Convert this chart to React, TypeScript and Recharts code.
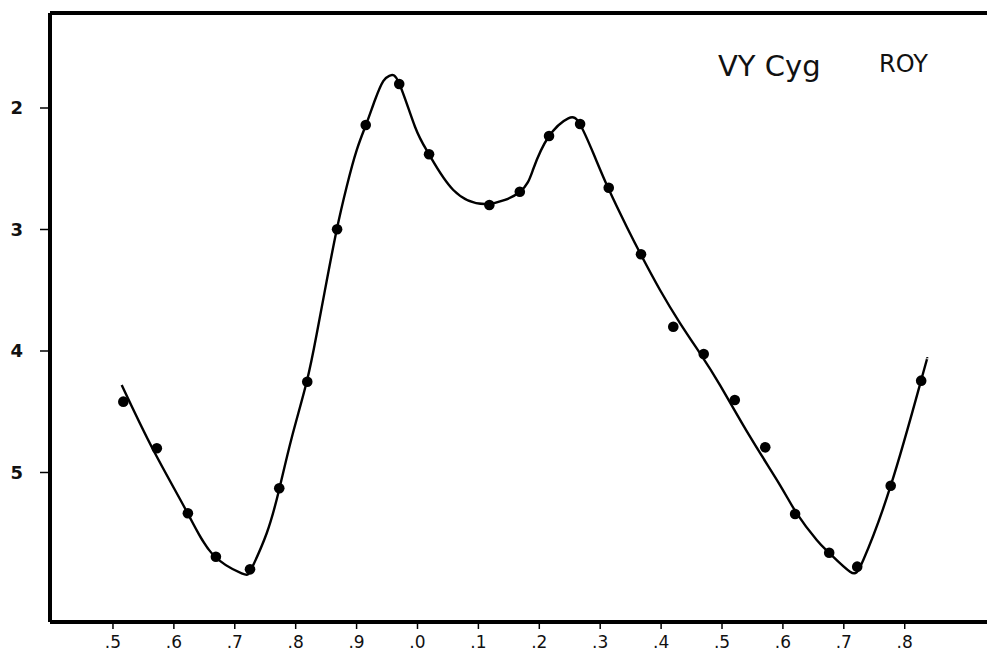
import React from 'react';
import {
  ComposedChart,
  Line,
  Scatter,
  XAxis,
  YAxis,
  ReferenceLine,
  Customized,
} from 'recharts';

// Observed points: phase (continuous, 0.5 .. 1.8) and magnitude
const pointPhase = [
  0.517, 0.572, 0.623, 0.669, 0.725, 0.773, 0.819, 0.868, 0.915, 0.970,
  1.019, 1.118, 1.168, 1.216, 1.267, 1.314, 1.367, 1.420, 1.470, 1.521,
  1.571, 1.620, 1.676, 1.722, 1.777, 1.827,
];
const pointMag = [
  4.417, 4.801, 5.336, 5.693, 5.797, 5.130, 4.253, 2.998, 2.140, 1.802,
  2.381, 2.798, 2.689, 2.230, 2.132, 2.656, 3.204, 3.800, 4.025, 4.403,
  4.793, 5.342, 5.660, 5.775, 5.109, 4.244,
];

// Hand-drawn mean light curve
const curvePhase = [
  0.5143, 0.5662, 0.6227, 0.6647, 0.7113, 0.7278, 0.7524, 0.7731, 0.7934, 0.8181,
  0.8345, 0.8509, 0.8673, 0.8837, 0.9002, 0.9166, 0.9302, 0.9438, 0.9548, 0.9696,
  0.9959, 1.0189, 1.0588, 1.1136, 1.1683, 1.1901, 1.2148, 1.2476, 1.2668,
  1.2887, 1.3133, 1.3435, 1.3665, 1.3982, 1.4310, 1.4639, 1.4967, 1.5460, 1.5952,
  1.6227, 1.6555, 1.6757, 1.7102, 1.7320, 1.7770, 1.8268, 1.8371,
];
const curveMag = [
  4.280, 4.815, 5.336, 5.679, 5.830, 5.789, 5.500, 5.136, 4.716, 4.253,
  3.860, 3.424, 3.004, 2.648, 2.346, 2.123, 1.934, 1.778, 1.733, 1.794,
  2.154, 2.381, 2.675, 2.790, 2.689, 2.502, 2.241, 2.085, 2.134,
  2.373, 2.661, 2.977, 3.204, 3.498, 3.770, 4.019, 4.280, 4.705, 5.103,
  5.336, 5.556, 5.660, 5.816, 5.720, 5.109, 4.244, 4.060,
];

const xTicks = [0.5, 0.6, 0.7, 0.8, 0.9, 1.0, 1.1, 1.2, 1.3, 1.4, 1.5, 1.6, 1.7, 1.8];
const xTickLabels = ['.5', '.6', '.7', '.8', '.9', '.0', '.1', '.2', '.3', '.4', '.5', '.6', '.7', '.8'];
const yTicks = [2, 3, 4, 5];
const yTickLabels = ['2', '3', '4', '5'];

const starName = 'VY Cyg';
const observer = 'ROY';

const X_DOMAIN: [number, number] = [0.3966, 1.9351];
const Y_DOMAIN: [number, number] = [1.2181, 6.2305];

const points = pointPhase.map((p, i) => ({ phase: p, mag: pointMag[i] }));
const curve = curvePhase.map((p, i) => ({ phase: p, mag: curveMag[i] }));

const FONT = '"DejaVu Sans", "Liberation Sans", sans-serif';

const Dot = (props: any) => {
  const { cx, cy } = props;
  if (cx == null || cy == null) return null;
  return <circle cx={cx} cy={cy} r={5.3} fill="#000" />;
};

const Titles = () => (
  <g>
    <text x={718} y={76} fontFamily={FONT} fontSize={29} fill="#111">
      {starName}
    </text>
    <text x={879} y={72} fontFamily={FONT} fontSize={24} fill="#111">
      {observer}
    </text>
  </g>
);

export default function App() {
  return (
    <div style={{ position: 'absolute', left: 0, top: 0, width: 987, height: 654, background: '#fff' }}>
      <ComposedChart
        width={987}
        height={654}
        margin={{ top: 13, right: 0, bottom: 0, left: 0 }}
      >
        <XAxis
          type="number"
          dataKey="phase"
          domain={X_DOMAIN}
          allowDataOverflow
          ticks={xTicks}
          tickFormatter={(_v: number, i: number) => xTickLabels[i]}
          height={32}
          tickSize={7}
          tickMargin={7}
          axisLine={{ stroke: '#000', strokeWidth: 4 }}
          tickLine={{ stroke: '#000', strokeWidth: 1.5 }}
          tick={{ fill: '#111', fontSize: 17, fontFamily: FONT }}
          interval={0}
        />
        <YAxis
          type="number"
          dataKey="mag"
          reversed
          domain={Y_DOMAIN}
          allowDataOverflow
          ticks={yTicks}
          tickFormatter={(_v: number, i: number) => yTickLabels[i]}
          width={50}
          tickSize={10}
          tickMargin={17}
          axisLine={{ stroke: '#000', strokeWidth: 4 }}
          tickLine={{ stroke: '#000', strokeWidth: 1.5 }}
          tick={{ fill: '#111', fontSize: 18, fontFamily: FONT, fontWeight: 'bold' }}
          interval={0}
        />
        <ReferenceLine y={Y_DOMAIN[0]} stroke="#000" strokeWidth={4} />
        <Line
          data={curve}
          dataKey="mag"
          type="natural"
          stroke="#000"
          strokeWidth={2.4}
          dot={false}
          activeDot={false}
          isAnimationActive={false}
        />
        <Scatter
          data={points}
          dataKey="mag"
          fill="#000"
          shape={<Dot />}
          isAnimationActive={false}
        />
        <Customized component={Titles} />
      </ComposedChart>
    </div>
  );
}
